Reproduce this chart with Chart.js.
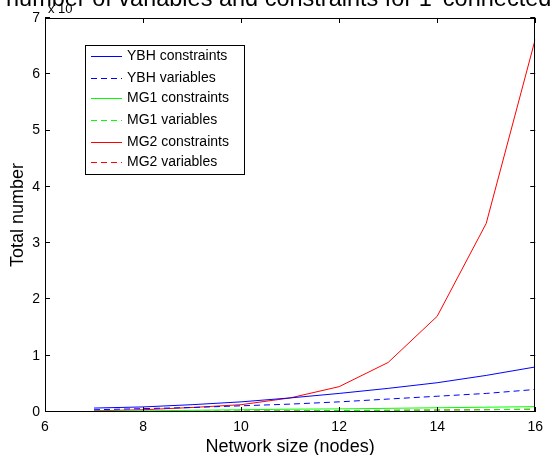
<!DOCTYPE html>
<html>
<head>
<meta charset="utf-8">
<script src="https://cdn.jsdelivr.net/npm/chart.js@4"></script>
<style>
  body { margin: 0; background: #fff; }
  #chart { display: block; }
</style>
</head>
<body>
<canvas id="chart" width="550" height="455"></canvas>
<script>
// données (axe y en unités affichées, facteur x 10^n)
const nodes = [7, 8, 9, 10, 11, 12, 13, 14, 15, 16];
const ybhConstraints = [0.07, 0.09, 0.13, 0.18, 0.25, 0.33, 0.42, 0.52, 0.65, 0.80];
const ybhVariables = [0.04, 0.06, 0.08, 0.11, 0.14, 0.18, 0.23, 0.28, 0.33, 0.40];
const mg1Constraints = [0.015, 0.02, 0.03, 0.04, 0.05, 0.055, 0.065, 0.075, 0.085, 0.095];
const mg1Variables = [0.005, 0.008, 0.01, 0.015, 0.02, 0.025, 0.03, 0.035, 0.04, 0.05];
const mg2Constraints = [0.02, 0.04, 0.08, 0.13, 0.25, 0.45, 0.88, 1.70, 3.35, 6.62];
const mg2Variables = [0.005, 0.008, 0.012, 0.016, 0.02, 0.025, 0.03, 0.035, 0.042, 0.05];
const seriesLabels = ['YBH constraints', 'YBH variables', 'MG1 constraints',
  'MG1 variables', 'MG2 constraints', 'MG2 variables'];
const xTicks = [6, 8, 10, 12, 14, 16];
const yTicks = [0, 1, 2, 3, 4, 5, 6, 7];

const titleText = "number of variables and constraints for 1' connected networks";
const xTitle = 'Network size (nodes)';
const yTitle = 'Total number';

// styles (séparés des données)
const seriesColors = ['#0000ff', '#0000ff', '#00ff00', '#00ff00', '#ff0000', '#ff0000'];
const seriesDashed = [false, true, false, true, false, true];
const DASH = [6, 4];
const FONT = 'Arial, "Liberation Sans", Helvetica, sans-serif';

function series(i, values) {
  return {
    label: seriesLabels[i],
    data: nodes.map((n, k) => ({ x: n, y: values[k] })),
    borderColor: seriesColors[i],
    backgroundColor: seriesColors[i],
    borderWidth: 1,
    borderDash: seriesDashed[i] ? DASH : [],
    pointRadius: 0,
    tension: 0,
    fill: false
  };
}

// cadre, graduations intérieures, légende et textes façon MATLAB
const matlabFrame = {
  id: 'matlabFrame',
  afterDraw(chart) {
    const ctx = chart.ctx;
    const a = chart.chartArea;
    const xs = chart.scales.x;
    const ys = chart.scales.y;
    ctx.save();
    ctx.strokeStyle = '#000';
    ctx.lineWidth = 1;
    ctx.setLineDash([]);
    ctx.strokeRect(Math.round(a.left) + 0.5, Math.round(a.top) + 0.5,
      Math.round(a.right - a.left) - 1, Math.round(a.bottom - a.top) - 1);

    const tl = 5;
    ctx.beginPath();
    xTicks.forEach(v => {
      const px = Math.round(xs.getPixelForValue(v)) + 0.5;
      ctx.moveTo(px, a.bottom); ctx.lineTo(px, a.bottom - tl);
      ctx.moveTo(px, a.top); ctx.lineTo(px, a.top + tl);
    });
    yTicks.forEach(v => {
      const py = Math.round(ys.getPixelForValue(v)) - 0.5;
      ctx.moveTo(a.left, py); ctx.lineTo(a.left + tl, py);
      ctx.moveTo(a.right, py); ctx.lineTo(a.right - tl, py);
    });
    ctx.stroke();

    // légende
    const lx = 85, ly = 45, lw = 159, lh = 129;
    ctx.fillStyle = '#fff';
    ctx.fillRect(lx, ly, lw, lh);
    ctx.strokeStyle = '#000';
    ctx.strokeRect(lx + 0.5, ly + 0.5, lw, lh);
    ctx.font = '14px ' + FONT;
    ctx.textBaseline = 'middle';
    ctx.textAlign = 'left';
    seriesLabels.forEach((label, i) => {
      const y = 2 * Math.round((ly + 11 + i * 21.3) / 2) + 0.5;
      ctx.strokeStyle = seriesColors[i];
      ctx.setLineDash(seriesDashed[i] ? DASH : []);
      ctx.beginPath();
      ctx.moveTo(91, y); ctx.lineTo(122, y);
      ctx.stroke();
      ctx.fillStyle = '#000';
      ctx.fillText(label, 127, y);
    });
    ctx.setLineDash([]);

    // titres
    ctx.fillStyle = '#000';
    ctx.textBaseline = 'alphabetic';
    ctx.font = '23.5px ' + FONT;
    ctx.fillText(titleText, 6, 6);
    ctx.font = '13px ' + FONT;
    ctx.fillText('x 10', 48, 13);
    ctx.font = '18px ' + FONT;
    ctx.textAlign = 'center';
    ctx.fillText(xTitle, (a.left + a.right) / 2, 452);
    ctx.translate(23, (a.top + a.bottom) / 2);
    ctx.rotate(-Math.PI / 2);
    ctx.fillText(yTitle, 0, 0);
    ctx.restore();
  }
};

new Chart(document.getElementById('chart'), {
  type: 'line',
  data: {
    datasets: [
      series(0, ybhConstraints),
      series(1, ybhVariables),
      series(2, mg1Constraints),
      series(3, mg1Variables),
      series(4, mg2Constraints),
      series(5, mg2Variables)
    ]
  },
  options: {
    responsive: false,
    animation: false,
    devicePixelRatio: 1,
    layout: { padding: { top: 18, right: 10, left: 0, bottom: 0 } },
    plugins: {
      legend: { display: false },
      tooltip: { enabled: false }
    },
    scales: {
      x: {
        type: 'linear',
        min: 6,
        max: 16,
        afterFit: s => { s.height = 43; },
        afterBuildTicks: s => { s.ticks = xTicks.map(v => ({ value: v })); },
        grid: { display: false, drawTicks: false },
        border: { display: false },
        ticks: {
          padding: 7,
          color: '#000',
          font: { family: FONT, size: 14 },
          maxRotation: 0
        }
      },
      y: {
        type: 'linear',
        min: 0,
        max: 7,
        afterFit: s => { s.width = 45; },
        afterBuildTicks: s => { s.ticks = yTicks.map(v => ({ value: v })); },
        grid: { display: false, drawTicks: false },
        border: { display: false },
        ticks: {
          padding: 5,
          color: '#000',
          font: { family: FONT, size: 14 }
        }
      }
    }
  },
  plugins: [matlabFrame]
});
</script>
</body>
</html>
